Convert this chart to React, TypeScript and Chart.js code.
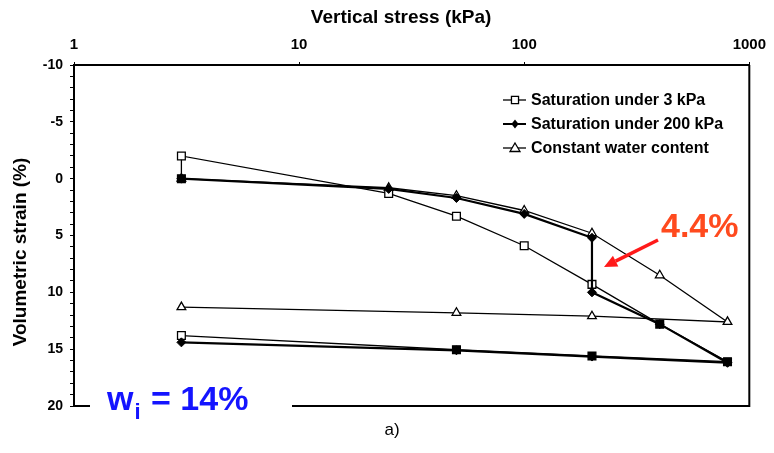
import React, { useEffect, useRef } from "react";
import { Chart, registerables } from "chart.js";

Chart.register(...registerables);

// ---- data ----
const xTickValues = [1, 10, 100, 1000];
const yMin = -10;
const yMax = 20;

const seriesLabels = [
  "Saturation under 3 kPa",
  "Saturation under 200 kPa",
  "Constant water content",
];

const sat3Stress = [3, 3, 25, 50, 100, 200, 400, 800, 200, 50, 3];
const sat3Strain = [0, -2, 1.3, 3.3, 5.9, 9.3, 12.8, 16.1, 15.6, 15.05, 13.8];

const sat200Stress = [3, 25, 50, 100, 200, 200, 400, 800, 200, 50, 3];
const sat200Strain = [0, 0.9, 1.7, 3.1, 5.2, 10.0, 12.8, 16.2, 15.65, 15.1, 14.4];

const constStress = [3, 25, 50, 100, 200, 400, 800, 200, 50, 3];
const constStrain = [0, 0.8, 1.5, 2.8, 4.8, 8.5, 12.6, 12.1, 11.8, 11.3];

const xTitle = "Vertical stress (kPa)";
const yTitle = "Volumetric strain (%)";
const jumpLabel = "4.4%";
const wiMain = "w";
const wiSub = "i";
const wiRest = " = 14%";
const panelLabel = "a)";

const FONT = "'Liberation Sans', Arial, sans-serif";

const toPoints = (xs: number[], ys: number[]) => xs.map((x, i) => ({ x, y: ys[i] }));

function drawMarker(ctx: CanvasRenderingContext2D, kind: string, x: number, y: number, r: number, lw: number) {
  ctx.save();
  ctx.lineWidth = lw;
  ctx.strokeStyle = "#000";
  ctx.beginPath();
  if (kind === "square") {
    const s = r * Math.SQRT1_2;
    ctx.rect(x - s, y - s, 2 * s, 2 * s);
    ctx.fillStyle = "#fff";
    ctx.fill();
    ctx.stroke();
  } else if (kind === "diamond") {
    ctx.moveTo(x, y - r);
    ctx.lineTo(x + r * 0.8, y);
    ctx.lineTo(x, y + r);
    ctx.lineTo(x - r * 0.8, y);
    ctx.closePath();
    ctx.fillStyle = "#000";
    ctx.fill();
  } else {
    ctx.moveTo(x, y - r);
    ctx.lineTo(x + r, y + r * 0.7);
    ctx.lineTo(x - r, y + r * 0.7);
    ctx.closePath();
    ctx.fillStyle = "#fff";
    ctx.fill();
    ctx.stroke();
  }
  ctx.restore();
}

const decorPlugin = {
  id: "decor",
  afterDraw(chart: any) {
    const { ctx, chartArea } = chart;
    const { left, right, top, bottom } = chartArea;
    ctx.save();
    // right and bottom frame
    ctx.strokeStyle = "#000";
    ctx.lineWidth = 2;
    ctx.beginPath();
    ctx.moveTo(right, top);
    ctx.lineTo(right, bottom);
    ctx.lineTo(left, bottom);
    ctx.stroke();

    // y title
    ctx.save();
    ctx.translate(21, 252);
    ctx.rotate(-Math.PI / 2);
    ctx.font = `bold 19px ${FONT}`;
    ctx.fillStyle = "#000";
    ctx.textAlign = "center";
    ctx.textBaseline = "middle";
    ctx.fillText(yTitle, 0, 0);
    ctx.restore();

    // legend
    const rows = [100, 124, 148];
    const kinds = ["square", "diamond", "triangle"];
    const lws = [1.3, 2, 1.3];
    rows.forEach((ry, i) => {
      ctx.strokeStyle = "#000";
      ctx.lineWidth = lws[i];
      ctx.beginPath();
      ctx.moveTo(503, ry);
      ctx.lineTo(526, ry);
      ctx.stroke();
      drawMarker(ctx, kinds[i], 515, ry, i === 1 ? 4.5 : 5, 1.3);
      ctx.font = `bold 16px ${FONT}`;
      ctx.fillStyle = "#000";
      ctx.textAlign = "left";
      ctx.textBaseline = "middle";
      ctx.fillText(seriesLabels[i], 531, ry + 1);
    });

    // 4.4% label and arrow
    ctx.font = `bold 34px ${FONT}`;
    ctx.fillStyle = "#FF4A1E";
    ctx.textAlign = "left";
    ctx.textBaseline = "alphabetic";
    ctx.fillText(jumpLabel, 661, 237);

    const x0 = 658, y0 = 240, x1 = 604, y1 = 267;
    const ang = Math.atan2(y1 - y0, x1 - x0);
    const hl = 13, hw = 6;
    const bx = x1 - hl * Math.cos(ang), by = y1 - hl * Math.sin(ang);
    ctx.strokeStyle = "#FF1A1A";
    ctx.fillStyle = "#FF1A1A";
    ctx.lineWidth = 3.5;
    ctx.beginPath();
    ctx.moveTo(x0, y0);
    ctx.lineTo(bx, by);
    ctx.stroke();
    ctx.beginPath();
    ctx.moveTo(x1, y1);
    ctx.lineTo(bx + hw * Math.sin(ang), by - hw * Math.cos(ang));
    ctx.lineTo(bx - hw * Math.sin(ang), by + hw * Math.cos(ang));
    ctx.closePath();
    ctx.fill();

    // w_i = 14% with white background
    ctx.fillStyle = "#fff";
    ctx.fillRect(90, 380, 202, 42);
    ctx.fillStyle = "#1414FF";
    ctx.font = `bold 34px ${FONT}`;
    ctx.textBaseline = "alphabetic";
    ctx.fillText(wiMain, 107, 410);
    const wW = ctx.measureText(wiMain).width;
    ctx.font = `bold 22px ${FONT}`;
    ctx.fillText(wiSub, 107 + wW + 1, 419);
    const iW = ctx.measureText(wiSub).width;
    ctx.font = `bold 34px ${FONT}`;
    ctx.fillText(wiRest, 107 + wW + 2 + iW, 410);

    // panel label
    ctx.fillStyle = "#000";
    ctx.font = `17px ${FONT}`;
    ctx.textAlign = "center";
    ctx.fillText(panelLabel, 392, 435);
    ctx.restore();
  },
};

export default function App() {
  const canvasRef = useRef<HTMLCanvasElement | null>(null);

  useEffect(() => {
    if (!canvasRef.current) return;
    const s1 = toPoints(sat3Stress, sat3Strain);
    const s2 = toPoints(sat200Stress, sat200Strain);
    const s3 = toPoints(constStress, constStrain);
    const s1Fill = s1.map((p) =>
      s2.some((q) => q.x === p.x && Math.abs(q.y - p.y) < 0.3) ? "#000" : "#fff"
    );

    const chart = new Chart(canvasRef.current, {
      type: "scatter",
      data: {
        datasets: [
          {
            label: seriesLabels[1],
            data: s2,
            showLine: true,
            borderColor: "#000",
            borderWidth: 2.2,
            pointStyle: "rectRot",
            pointRadius: 4.5,
            pointBackgroundColor: "#000",
            pointBorderColor: "#000",
            pointBorderWidth: 1,
            order: 0,
          },
          {
            label: seriesLabels[0],
            data: s1,
            showLine: true,
            borderColor: "#000",
            borderWidth: 1.3,
            pointStyle: "rect",
            pointRadius: 5.5,
            pointBackgroundColor: s1Fill,
            pointBorderColor: "#000",
            pointBorderWidth: 1.3,
            order: 1,
          },
          {
            label: seriesLabels[2],
            data: s3,
            showLine: true,
            borderColor: "#000",
            borderWidth: 1.3,
            pointStyle: "triangle",
            pointRadius: 5,
            pointBackgroundColor: "#fff",
            pointBorderColor: "#000",
            pointBorderWidth: 1.3,
            order: 2,
          },
        ],
      },
      options: {
        responsive: true,
        maintainAspectRatio: false,
        animation: false,
        layout: { padding: { top: 0, left: 0, right: 22, bottom: 47 } },
        plugins: {
          legend: { display: false },
          tooltip: { enabled: false },
        },
        scales: {
          x: {
            type: "logarithmic",
            position: "top",
            min: 1,
            max: 1000,
            afterBuildTicks: (scale: any) => {
              scale.ticks = xTickValues.map((v) => ({ value: v }));
            },
            afterFit: (scale: any) => {
              scale.height = 65;
            },
            ticks: {
              autoSkip: false,
              maxRotation: 0,
              padding: 8,
              color: "#000",
              font: { family: FONT, size: 15, weight: "bold" },
              callback: (v: any) => String(v),
            },
            grid: {
              display: true,
              drawOnChartArea: false,
              tickLength: 3,
              color: "#000",
            },
            border: { display: true, color: "#000", width: 2 },
            title: {
              display: true,
              text: xTitle + "\u00A0\u00A0\u00A0\u00A0",
              color: "#000",
              font: { family: FONT, size: 19, weight: "bold" },
              padding: { top: 6, bottom: 0 },
            },
          },
          y: {
            type: "linear",
            reverse: true,
            min: yMin,
            max: yMax,
            afterFit: (scale: any) => {
              scale.width = 74;
            },
            ticks: {
              stepSize: 1,
              autoSkip: false,
              padding: 7,
              color: "#000",
              font: { family: FONT, size: 14, weight: "bold" },
              callback: (v: any) => (Number(v) % 5 === 0 ? String(v) : ""),
            },
            grid: {
              display: true,
              drawOnChartArea: false,
              tickLength: 4,
              color: "#000",
            },
            border: { display: true, color: "#000", width: 2 },
          },
        },
      },
      plugins: [decorPlugin],
    } as any);

    return () => chart.destroy();
  }, []);

  return (
    <div style={{ position: "fixed", left: 0, top: 0, width: 774, height: 453, background: "#fff" }}>
      <canvas ref={canvasRef} />
    </div>
  );
}
